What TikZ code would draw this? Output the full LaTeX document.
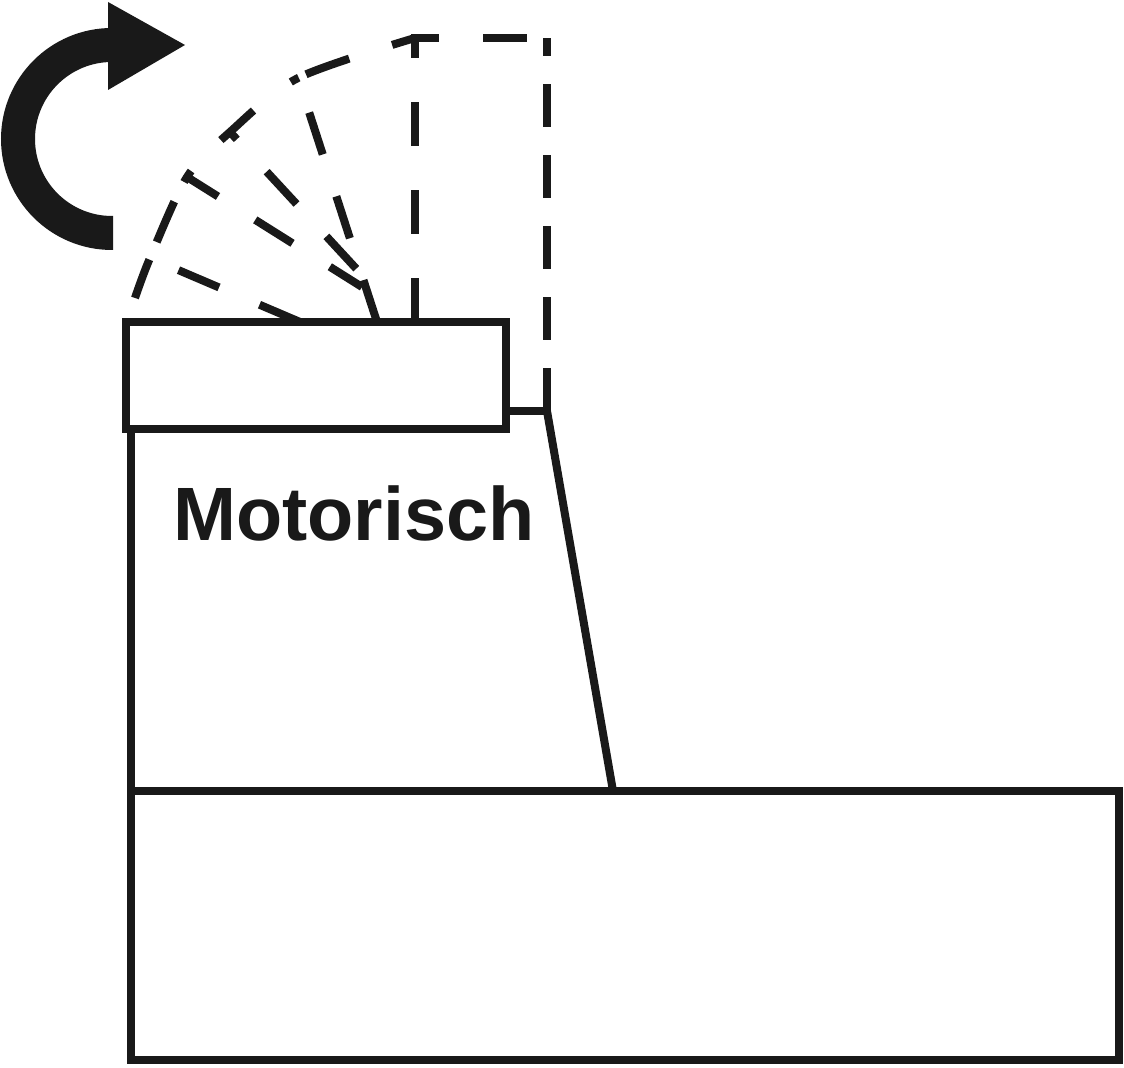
\documentclass[tikz,border=0pt]{standalone}
\usepackage{fontspec}
\setmainfont{Liberation Sans}
\usepackage{tikz}

\begin{document}
\begin{tikzpicture}[x=0.01cm,y=-0.01cm,
  edge/.style={line width=0.08cm,draw=black!90},
  openlid/.style={edge,dash pattern=on 0.44cm off 0.44cm},
  hingeline/.style={edge,dash pattern=on 0.43cm off 0.28cm},
  swing/.style={edge,dash pattern=on 0.41cm off 0.19cm on 0.44cm off 0.22cm on 0.13cm off 0.43cm on 0.44cm off 0.47cm on 0.09cm off 0.08cm on 0.46cm off 0.45cm on 0.24cm off 0.5cm}
  ]
\useasboundingbox (0,0) rectangle (1124,1068);
% closed lid and housing
\coordinate (K) at (126,322);
\coordinate (H) at (506,429);
\coordinate (Q) at (506,411);
\coordinate (P) at (547,411);
\coordinate (S) at (613,791);
\coordinate (BL) at (131,429);
\coordinate (BT) at (131,791);
\coordinate (BR) at (1119,1060);
% opened lid positions
\coordinate (T1) at (300,322);
\coordinate (E1) at (150,258);
\coordinate (TD) at (377,322);
\coordinate (ED) at (298,78);
\coordinate (JB) at (362,287);
\coordinate (EB) at (187,177);
\coordinate (JC) at (363,276);
\coordinate (EC) at (230,132);
\coordinate (T90) at (415,322);
\coordinate (C90) at (415,38);
\coordinate (R90) at (547,38);
\coordinate (A0) at (135,298);
\draw[edge] (K) rectangle (H);
\draw[edge] (BL) -- (BT);
\draw[edge] (Q) -- (P);
\draw[edge] (P) -- (S);
\draw[edge] (BT) rectangle (BR);
\draw[openlid] (T1) -- (E1);
\draw[openlid] (TD) -- (ED);
\draw[openlid,dash phase=0.06cm] (JB) -- (EB);
\draw[openlid,dash phase=0.34cm] (EC) -- (JC);
\draw[openlid] (T90) -- (C90) -- (R90);
\draw[hingeline] (P) -- (R90);
\draw[swing] plot[smooth] coordinates {(A0) (E1) (EB) (EC) (ED) (C90)};
% turning arrow
\fill[black!90] (112,250) arc[start angle=90,end angle=270,radius=111]
  -- (108,28) -- (108,2) -- (185,45) -- (108,90) -- (108,62) -- (112,62)
  arc[start angle=270,end angle=90,radius=77] -- (113,216) -- (113,250) -- cycle;
\node[anchor=base west,inner sep=0pt,text=black!90,
  font=\bfseries\fontsize{21.5}{26}\selectfont] (label) at (172.5,541) {Motorisch};
\end{tikzpicture}
\end{document}
